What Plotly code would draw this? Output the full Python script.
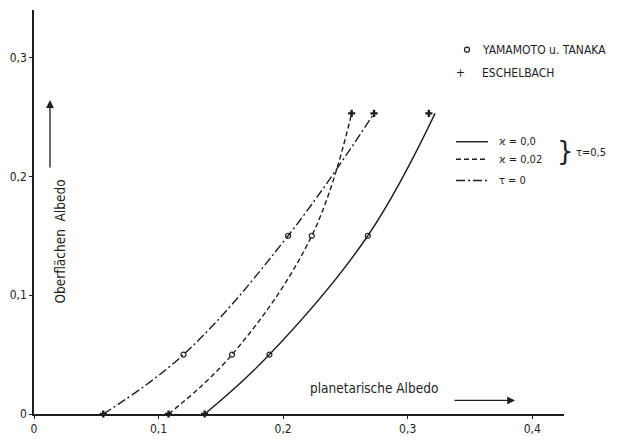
import plotly.graph_objects as go

# ---- data ----
surface_levels = [0.0, 0.05, 0.15, 0.253]

# curve tau = 0 (dash-dot)
x_tau0 = [0.0556, 0.120, 0.204, 0.273]
# curve kappa = 0.02 (dashed)
x_k002 = [0.108, 0.159, 0.223, 0.255]
# curve kappa = 0.0 (solid)
x_k00 = [0.137, 0.189, 0.268, 0.322]

# Yamamoto u. Tanaka points (open circles)
yam_x = [0.120, 0.204, 0.159, 0.223, 0.189, 0.268]
yam_y = [0.05, 0.15, 0.05, 0.15, 0.05, 0.15]
# Eschelbach points (+)
esch_x = [0.0556, 0.108, 0.137, 0.255, 0.273, 0.317]
esch_y = [0.0, 0.0, 0.0, 0.253, 0.253, 0.253]

x_ticks = [0, 0.1, 0.2, 0.3, 0.4]
x_ticktext = ["0", "0,1", "0,2", "0,3", "0,4"]
y_ticks = [0, 0.1, 0.2, 0.3]
y_ticktext = ["0", "0,1", "0,2", "0,3"]

FONT_TICK = "Liberation Sans Narrow, DejaVu Sans Condensed, sans-serif"
FONT = "DejaVu Sans Condensed, DejaVu Sans, sans-serif"
INK = "#1e1e1e"

W, H = 627, 446
L, R, T, B = 34, 63, 10, 19
PW, PH = W - L - R, H - T - B


def px(xp):
    return (xp - L) / PW


def py(yp):
    return (H - B - yp) / PH


fig = go.Figure()
line_w = 1.4
SMOOTH = 1.1
fig.add_trace(go.Scatter(x=x_k00, y=surface_levels, mode="lines",
                         line=dict(color=INK, width=line_w, shape="spline", smoothing=SMOOTH),
                         hoverinfo="skip"))
fig.add_trace(go.Scatter(x=x_k002, y=surface_levels, mode="lines",
                         line=dict(color=INK, width=line_w, dash="5px,3px", shape="spline", smoothing=SMOOTH),
                         hoverinfo="skip"))
fig.add_trace(go.Scatter(x=x_tau0, y=surface_levels, mode="lines",
                         line=dict(color=INK, width=line_w, dash="9px,3px,2px,3px", shape="spline",
                                   smoothing=SMOOTH),
                         hoverinfo="skip"))
fig.add_trace(go.Scatter(x=yam_x, y=yam_y, mode="markers",
                         marker=dict(symbol="circle-open", size=5, color=INK, line=dict(width=1.2))))
fig.add_trace(go.Scatter(x=esch_x, y=esch_y, mode="markers",
                         marker=dict(symbol="cross", size=6, color=INK),
                         cliponaxis=False))

shapes = []
annotations = []

# y-axis title with arrow
annotations.append(dict(x=px(50), y=py(249), xref="paper", yref="paper", text="Oberflächen  Albedo",
                        textangle=-90, showarrow=False, font=dict(size=13.5, color=INK, family=FONT)))
annotations.append(dict(x=px(50), y=py(103), xref="paper", yref="paper", text="", showarrow=True,
                        ax=0, ay=69, arrowhead=2, arrowsize=1.2, arrowwidth=1.3, arrowcolor=INK))
# x-axis title with arrow
annotations.append(dict(x=px(374), y=py(411), xref="paper", yref="paper", text="planetarische Albedo",
                        showarrow=False, font=dict(size=13.5, color=INK, family=FONT)))
annotations.append(dict(x=px(515), y=py(413), xref="paper", yref="paper", text="", showarrow=True,
                        ax=-62, ay=0, arrowhead=2, arrowsize=1.2, arrowwidth=1.3, arrowcolor=INK))

# marker legend
shapes.append(dict(type="circle", xref="paper", yref="paper", xsizemode="pixel", ysizemode="pixel",
                   xanchor=px(467), yanchor=py(51), x0=-2.5, x1=2.5, y0=-2.5, y1=2.5,
                   line=dict(color=INK, width=1.2)))
annotations.append(dict(x=px(480), y=py(51), xref="paper", yref="paper", text="YAMAMOTO u. TANAKA",
                        xanchor="left", yanchor="middle", showarrow=False,
                        font=dict(size=12, color=INK, family=FONT)))
annotations.append(dict(x=px(467), y=py(75), xref="paper", yref="paper", text="+", showarrow=False,
                        yanchor="middle", font=dict(size=12, color=INK, family=FONT)))
annotations.append(dict(x=px(480), y=py(75), xref="paper", yref="paper", text="ESCHELBACH",
                        xanchor="left", yanchor="middle", showarrow=False,
                        font=dict(size=12, color=INK, family=FONT)))

# line legend
legend_rows = [(146, "solid", "ϰ = 0,0"), (164, "5px,3px", "ϰ = 0,02"), (186, "9px,3px,2px,3px", "τ = 0")]
for yp, dash, label in legend_rows:
    shapes.append(dict(type="line", xref="paper", yref="paper", x0=px(456), x1=px(488), y0=py(yp), y1=py(yp),
                       line=dict(color=INK, width=1.4, dash=dash)))
    annotations.append(dict(x=px(497), y=py(yp), xref="paper", yref="paper", text=label, xanchor="left",
                            yanchor="middle", showarrow=False, font=dict(size=11, color=INK, family=FONT)))
annotations.append(dict(x=px(565), y=py(156), xref="paper", yref="paper", text="}", showarrow=False,
                        yanchor="middle", font=dict(size=26, color=INK, family="DejaVu Sans"), xanchor="center"))
annotations.append(dict(x=px(574), y=py(157), xref="paper", yref="paper", text="τ=0,5", xanchor="left",
                        yanchor="middle", showarrow=False, font=dict(size=11, color=INK, family=FONT)))

fig.update_layout(
    width=W, height=H,
    margin=dict(l=L, r=R, t=T, b=B),
    plot_bgcolor="white", paper_bgcolor="white",
    showlegend=False,
    shapes=shapes, annotations=annotations,
    font=dict(family=FONT, size=11, color=INK),
)
fig.update_xaxes(range=[0, 0.4255], showgrid=False, zeroline=False, showline=True, linecolor=INK,
                 linewidth=1.5, ticks="outside", ticklen=3, tickcolor=INK, tickvals=x_ticks,
                 ticktext=x_ticktext, tickfont=dict(size=12, family=FONT_TICK, color=INK))
fig.update_yaxes(range=[0, 0.34], showgrid=False, zeroline=False, showline=True, linecolor=INK,
                 linewidth=1.5, ticks="outside", ticklen=3, tickcolor=INK, tickvals=y_ticks,
                 ticktext=y_ticktext, tickfont=dict(size=12, family=FONT_TICK, color=INK))

fig.write_html("out.html")
